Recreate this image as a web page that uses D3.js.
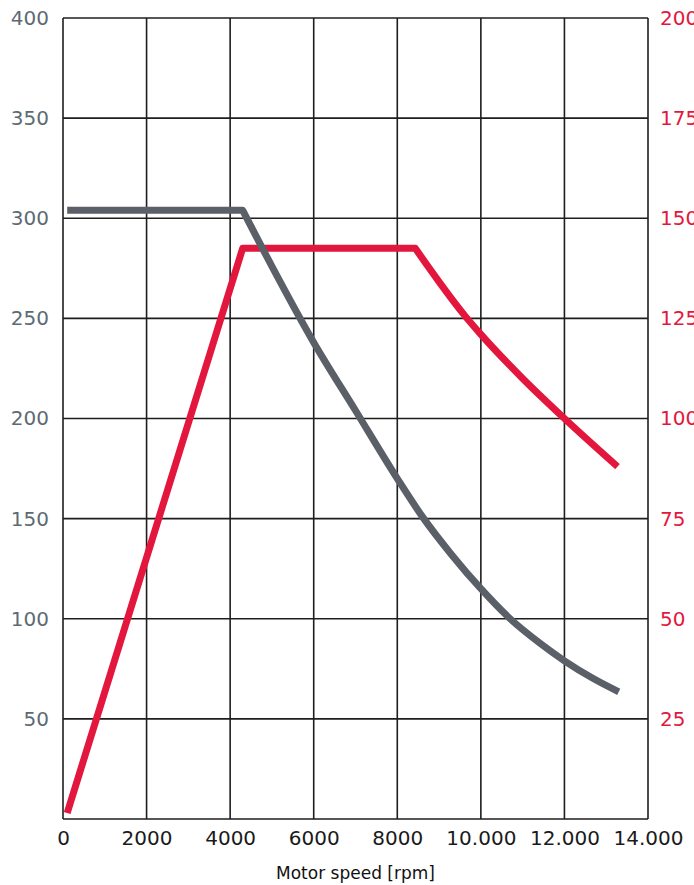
<!DOCTYPE html>
<html>
<head>
<meta charset="utf-8">
<script src="https://cdn.jsdelivr.net/npm/d3@7"></script>
<style>
  body { margin: 0; background: #fff; }
  svg { display: block; }
</style>
</head>
<body>
<div id="chart"></div>
<script>
// speed in rpm
const xTicks = [0, 2000, 4000, 6000, 8000, 10000, 12000, 14000];
const leftTicks = [50, 100, 150, 200, 250, 300, 350, 400];
const rightTicks = [25, 50, 75, 100, 125, 150, 175, 200];

// torque curve (left axis)
const torqueSpeed = [100, 4300, 5000, 6000, 7000, 8000, 8600, 9300, 10000, 10700, 11400, 12000, 12700, 13300];
const torqueValue = [304, 304, 276, 238, 204, 170, 151, 132, 115, 100, 88, 79, 70, 63.5];

// power curve (right axis)
const powerSpeed = [100, 4300, 8430, 9630, 10000, 11000, 12000, 13270];
const powerValue = [1.5, 142.5, 142.5, 125.5, 121, 110, 100, 88];

// straight part ends here, the rest is a smooth curve
const torqueBend = 1;
const powerBend = 2;

function drawChart() {
    const W = 694, H = 885;
    const left = 63, right = 648, top = 18, bottom = 819;

    const svg = d3.select("#chart")
        .append("svg")
        .attr("width", W)
        .attr("height", H);

    const x = d3.scaleLinear().domain([0, 14000]).range([left, right]);
    const yL = d3.scaleLinear().domain([0, 400]).range([bottom, top]);
    const yR = d3.scaleLinear().domain([0, 200]).range([bottom, top]);

    const font = "DejaVu Sans, sans-serif";

    // grid
    const grid = svg.append("g").attr("stroke", "#1e1e1e").attr("stroke-width", 1.6);
    grid.selectAll("line.v")
        .data(xTicks)
        .enter().append("line")
        .attr("x1", d => x(d)).attr("x2", d => x(d))
        .attr("y1", top).attr("y2", bottom);
    grid.selectAll("line.h")
        .data([0].concat(leftTicks))
        .enter().append("line")
        .attr("x1", left).attr("x2", right)
        .attr("y1", d => yL(d)).attr("y2", d => yL(d));

    // axes (labels only)
    const fmtX = d => d >= 10000 ? d3.format(",")(d).replace(",", ".") : d;

    const gx = svg.append("g")
        .attr("transform", `translate(0,${bottom})`)
        .call(d3.axisBottom(x).tickValues(xTicks).tickSize(0).tickPadding(12).tickFormat(fmtX));
    gx.select(".domain").remove();
    gx.selectAll("text")
        .attr("fill", "#1a1a1a")
        .style("font-family", font)
        .style("font-size", "20px");

    const gl = svg.append("g")
        .attr("transform", `translate(${left},0)`)
        .call(d3.axisLeft(yL).tickValues(leftTicks).tickSize(0).tickPadding(14));
    gl.select(".domain").remove();
    gl.selectAll("text")
        .attr("fill", "#5d6a73")
        .style("font-family", font)
        .style("font-size", "20px");

    // right labels run off the page edge, as in the original
    const gr = svg.append("g")
        .attr("transform", `translate(${right},0)`)
        .call(d3.axisRight(yR).tickValues(rightTicks).tickSize(0).tickPadding(12));
    gr.select(".domain").remove();
    gr.selectAll("text")
        .attr("fill", "#e3173e")
        .style("font-family", font)
        .style("font-size", "20px");

    // straight segments up to the bend, monotone curve after it, in one path
    function curvePath(speeds, values, bend, y) {
        const pts = speeds.map((s, i) => [x(s), y(values[i])]);
        const straight = d3.line()(pts.slice(0, bend + 1));
        const smooth = d3.line().curve(d3.curveMonotoneX)(pts.slice(bend));
        return straight + "L" + smooth.slice(1);
    }

    svg.append("path")
        .attr("fill", "none")
        .attr("stroke", "#e3173e")
        .attr("stroke-width", 7)
        .attr("stroke-linejoin", "round")
        .attr("d", curvePath(powerSpeed, powerValue, powerBend, yR));

    svg.append("path")
        .attr("fill", "none")
        .attr("stroke", "#5b6068")
        .attr("stroke-width", 7)
        .attr("stroke-linejoin", "round")
        .attr("d", curvePath(torqueSpeed, torqueValue, torqueBend, yL));

    svg.append("text")
        .attr("x", (left + right) / 2)
        .attr("y", 879)
        .attr("text-anchor", "middle")
        .attr("fill", "#111")
        .style("font-family", font)
        .style("font-size", "17px")
        .text("Motor speed [rpm]");
}

drawChart();
</script>
</body>
</html>
